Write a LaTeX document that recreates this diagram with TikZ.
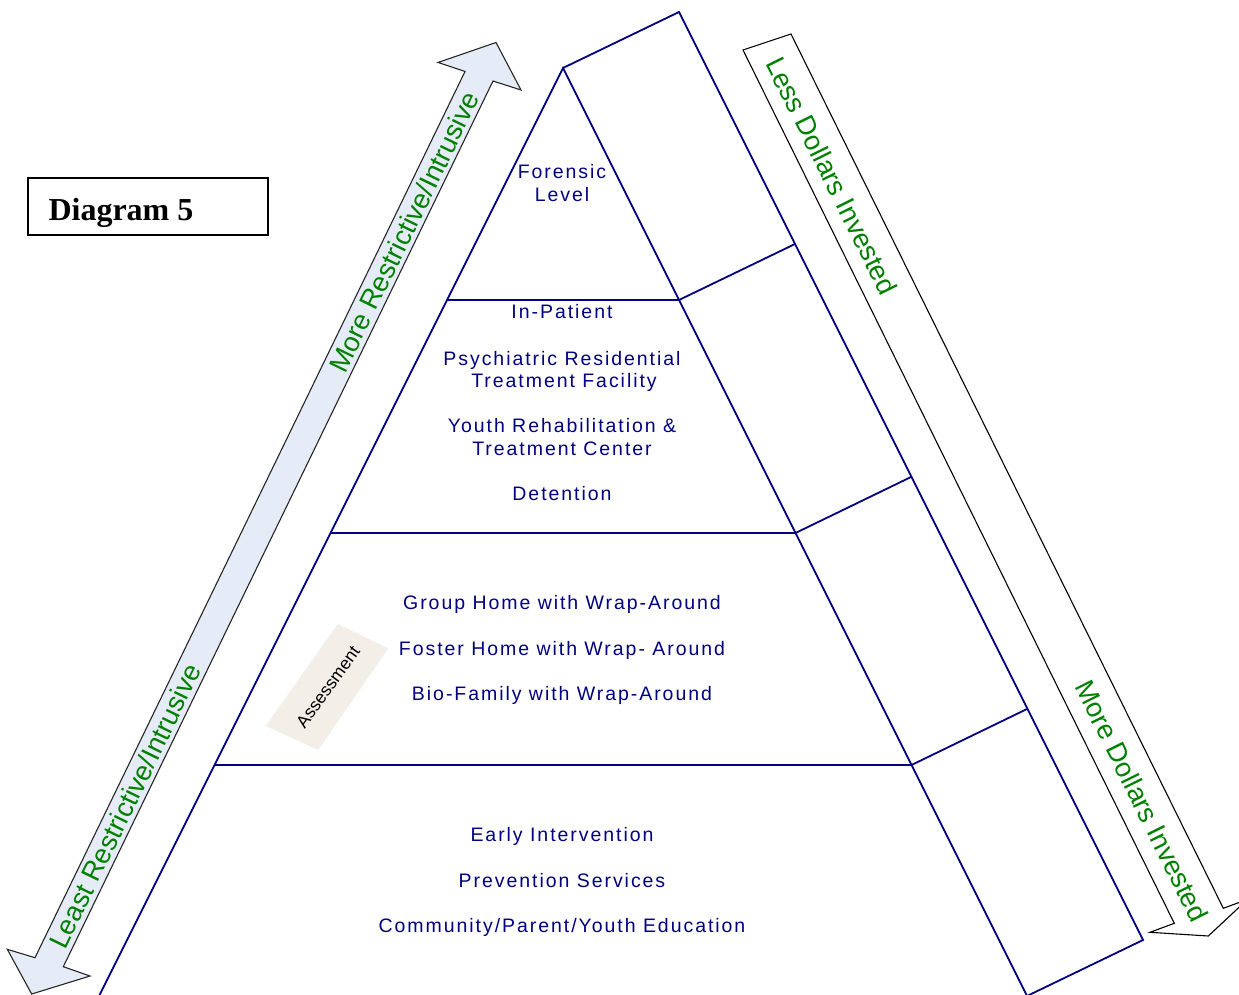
\documentclass[tikz,border=0pt]{standalone}
\usepackage{fontspec}
\setmainfont{Liberation Sans}
\newfontfamily\serifbf{Liberation Serif}
\newfontfamily\tierfont[LetterSpace=10]{Liberation Sans}
\definecolor{navy}{RGB}{0,0,128}
\definecolor{dgreen}{RGB}{0,128,0}
\definecolor{arrowblue}{RGB}{230,236,247}
\definecolor{assessbg}{RGB}{244,238,233}
\begin{document}
\begin{tikzpicture}[x=1pt,y=-1pt,
  tier/.style={font=\tierfont\fontsize{19.5}{23}\selectfont, text=navy, inner sep=0pt, anchor=base},
  greenlbl/.style={font=\fontsize{27.3}{31}\selectfont, text=dgreen, inner sep=0pt, anchor=center},
  pyr/.style={draw=navy, line width=1.8pt, line join=miter},
  bigarrow/.style={line width=1.1pt, line join=miter},
]
\useasboundingbox (0,0) rectangle (1239,995);
\clip (0,0) rectangle (1239,995);

% ---- left double arrow
\coordinate (la1) at (496,42.5);
\coordinate (la2) at (521,90);
\coordinate (la3) at (493,81);
\coordinate (la4) at (63.3,966.7);
\coordinate (la5) at (90,976);
\coordinate (la6) at (31.7,994);
\coordinate (la7) at (7.3,949.3);
\coordinate (la8) at (35,957.7);
\coordinate (la9) at (465,71.5);
\coordinate (la10) at (438,62.5);
\draw[bigarrow, fill=arrowblue, draw=black!85] (la1) -- (la2) -- (la3) -- (la4) -- (la5) -- (la6) -- (la7) -- (la8) -- (la9) -- (la10) -- cycle;

% ---- right arrow
\coordinate (ra1) at (743,50);
\coordinate (ra2) at (791,34);
\coordinate (ra3) at (1223.3,908.3);
\coordinate (ra4) at (1247.6,899.3);
\coordinate (ra5) at (1208.3,936);
\coordinate (ra6) at (1150,932.3);
\coordinate (ra7) at (1174.3,923.3);
\draw[bigarrow, fill=white, draw=black] (ra1) -- (ra2) -- (ra3) -- (ra4) -- (ra5) -- (ra6) -- (ra7) -- cycle;

% ---- pyramid
\coordinate (apex) at (563,68);
\coordinate (back) at (679,12);
\coordinate (lbase) at (99.5,995);
\coordinate (rbase) at (1026.5,995);
\coordinate (bbase) at (1143,940);
\coordinate (bb2) at (1027,996);
\coordinate (f1) at (679,300);
\coordinate (f2) at (795.5,533);
\coordinate (f3) at (911.5,765);
\coordinate (g1) at (447,300);
\coordinate (g2) at (330.5,533);
\coordinate (g3) at (214.5,765);
\coordinate (b1) at (795,244);
\coordinate (b2) at (911,477);
\coordinate (b3) at (1027,709);
\draw[pyr] (lbase) -- (apex) -- (rbase);
\draw[pyr] (apex) -- (back) -- (bbase) -- (bb2);
\draw[pyr] (g1) -- (f1) -- (b1);
\draw[pyr] (g2) -- (f2) -- (b2);
\draw[pyr] (g3) -- (f3) -- (b3);

% ---- assessment box
\coordinate (as1) at (337.7,624);
\coordinate (as2) at (388.3,648.3);
\coordinate (as3) at (318.3,750);
\coordinate (as4) at (265.7,726);
\fill[assessbg] (as1) -- (as2) -- (as3) -- (as4) -- cycle;
\node (assess) [font=\fontsize{17.5}{20}\selectfont, rotate=54, inner sep=0pt] at (328,687) {Assessment};

% ---- green labels
\node (more) [greenlbl, rotate=64] at (404,232) {More Restrictive/Intrusive};
\node (least) [greenlbl, rotate=64] at (125,806) {Least Restrictive/Intrusive};
\node (less) [greenlbl, rotate=-63.5] at (832,176) {Less Dollars Invested};
\node (moredol) [greenlbl, rotate=-63.5] at (1142,801) {More Dollars Invested};

% ---- tier texts
\node (t4a) [tier] at (562,178.5) {Forensic};
\node (t4b) [tier] at (562,202) {Level};
\node (t3a) [tier] at (562,318) {In-Patient};
\node (t3b) [tier] at (562,365) {Psychiatric Residential};
\node (t3c) [tier] at (564,387.5) {Treatment Facility};
\node (t3d) [tier] at (562,432.5) {Youth Rehabilitation \&};
\node (t3e) [tier] at (562,455) {Treatment Center};
\node (t3f) [tier] at (562,500.5) {Detention};
\node (t2a) [tier] at (562,609.5) {Group Home with Wrap-Around};
\node (t2b) [tier] at (562,655.5) {Foster Home with Wrap- Around};
\node (t2c) [tier] at (562,700.5) {Bio-Family with Wrap-Around};
\node (t1a) [tier] at (562,841.5) {Early Intervention};
\node (t1b) [tier] at (562,887.5) {Prevention Services};
\node (t1c) [tier] at (562,932.5) {Community/Parent/Youth Education};

% ---- title box
\node (diagbox) [draw=black, line width=1.8pt, minimum width=240pt, minimum height=56.7pt, inner sep=0pt] at (148.3,206.6) {};
\node (diagtxt) [anchor=base west, inner sep=0pt, font=\serifbf\bfseries\fontsize{32}{36}\selectfont] at (48.3,220) {Diagram 5};
\end{tikzpicture}
\end{document}
